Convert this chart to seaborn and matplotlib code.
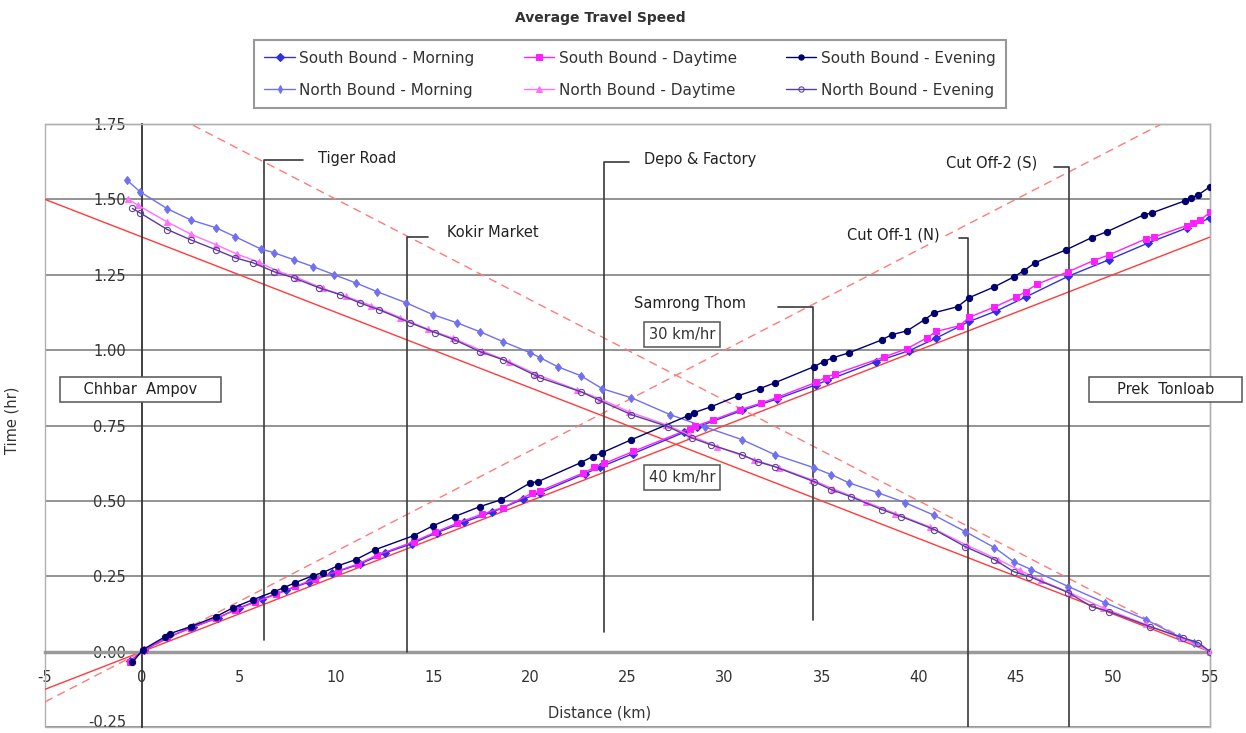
import matplotlib
matplotlib.use("Agg")
from matplotlib import pyplot as plt
from matplotlib.patches import Rectangle
from matplotlib.transforms import ScaledTranslation
import numpy as np
import pandas as pd
import seaborn as sns

# distance (km) / travel time (hr)
d_sbm = [-0.6, 0.1, 1.3, 2.6, 3.9, 5.0, 6.2, 7.4, 8.6, 9.8, 11.2, 12.5, 13.9, 15.2, 16.6, 18.0, 19.6, 20.5,
         22.8, 23.6, 25.3, 27.9, 28.6, 30.9, 32.7, 34.7, 35.3, 37.8, 39.5, 40.9, 42.6, 44.0, 45.5, 47.7,
         49.8, 51.8, 53.8, 55.0]
t_sbm = [-0.030, 0.004, 0.047, 0.081, 0.112, 0.145, 0.175, 0.203, 0.231, 0.260, 0.290, 0.327, 0.358, 0.395,
         0.430, 0.462, 0.505, 0.527, 0.590, 0.612, 0.657, 0.727, 0.745, 0.800, 0.838, 0.885, 0.900, 0.962,
         0.998, 1.040, 1.095, 1.130, 1.176, 1.245, 1.300, 1.355, 1.405, 1.438]

d_sbd = [-0.6, 0.1, 1.3, 2.5, 3.8, 4.8, 5.8, 6.9, 7.9, 8.9, 10.1, 11.1, 12.1, 14.0, 15.1, 16.2, 17.5, 18.6,
         20.1, 20.5, 22.7, 23.3, 23.8, 25.3, 28.2, 28.5, 29.4, 30.8, 31.9, 32.7, 34.7, 35.2, 35.7, 38.2,
         39.4, 40.4, 40.9, 42.1, 42.6, 43.9, 45.0, 45.5, 46.1, 47.7, 49.0, 49.8, 51.7, 52.1, 53.8, 54.1,
         54.5, 55.0]
t_sbd = [-0.034, 0.006, 0.047, 0.078, 0.110, 0.138, 0.164, 0.190, 0.217, 0.240, 0.268, 0.290, 0.320, 0.365,
         0.396, 0.425, 0.456, 0.478, 0.526, 0.533, 0.592, 0.611, 0.624, 0.664, 0.739, 0.748, 0.768, 0.802,
         0.825, 0.843, 0.893, 0.909, 0.921, 0.977, 1.005, 1.040, 1.062, 1.081, 1.109, 1.143, 1.175, 1.194,
         1.219, 1.260, 1.297, 1.316, 1.369, 1.375, 1.413, 1.422, 1.432, 1.457]

d_sbe = [-0.5, 0.05, 1.2, 1.45, 2.5, 3.8, 4.7, 5.7, 6.8, 7.3, 7.9, 8.8, 9.3, 10.1, 11.0, 12.0, 14.0, 15.0,
         16.1, 17.4, 18.5, 20.0, 20.4, 22.6, 23.2, 23.7, 25.2, 28.1, 28.4, 29.3, 30.7, 31.8, 32.6, 34.6,
         35.1, 35.6, 36.4, 38.1, 38.6, 39.4, 40.3, 40.8, 42.0, 42.6, 43.9, 44.9, 45.4, 46.0, 47.6, 48.9,
         49.7, 51.6, 52.0, 53.7, 54.0, 54.4, 55.0]
t_sbe = [-0.036, 0.007, 0.050, 0.060, 0.083, 0.116, 0.146, 0.172, 0.199, 0.212, 0.229, 0.252, 0.262, 0.285,
         0.305, 0.338, 0.385, 0.418, 0.448, 0.481, 0.504, 0.560, 0.564, 0.627, 0.647, 0.660, 0.703, 0.782,
         0.792, 0.812, 0.849, 0.872, 0.892, 0.945, 0.962, 0.975, 0.991, 1.034, 1.051, 1.064, 1.101, 1.124,
         1.144, 1.174, 1.210, 1.243, 1.263, 1.290, 1.333, 1.373, 1.393, 1.449, 1.455, 1.495, 1.505, 1.515,
         1.542]

d_nbm = [-0.8, -0.1, 1.3, 2.5, 3.8, 4.8, 6.1, 6.8, 7.8, 8.8, 9.9, 11.0, 12.1, 13.6, 15.0, 16.2, 17.4, 18.6,
         20.0, 20.5, 21.4, 22.6, 23.7, 25.2, 27.2, 29.0, 30.9, 32.6, 34.6, 35.5, 36.4, 37.9, 39.3, 40.8,
         42.4, 43.9, 44.9, 45.8, 47.7, 49.6, 51.7, 53.4, 54.2, 55.0]
t_nbm = [1.565, 1.525, 1.469, 1.432, 1.406, 1.376, 1.336, 1.323, 1.300, 1.277, 1.250, 1.223, 1.194, 1.157,
         1.117, 1.091, 1.061, 1.028, 0.991, 0.975, 0.945, 0.915, 0.872, 0.842, 0.786, 0.745, 0.703, 0.653,
         0.610, 0.587, 0.560, 0.527, 0.494, 0.452, 0.398, 0.345, 0.298, 0.272, 0.216, 0.162, 0.106, 0.050,
         0.030, 0.0]

d_nbd = [-0.7, -0.2, 1.3, 2.5, 3.8, 4.9, 6.0, 7.0, 8.0, 9.3, 10.5, 11.8, 13.3, 14.7, 16.0, 17.5, 18.9, 20.3,
         22.4, 23.6, 25.1, 27.0, 28.2, 29.6, 31.5, 32.8, 34.5, 35.6, 37.3, 38.8, 40.6, 42.5, 44.1, 45.2,
         46.3, 47.8, 49.5, 51.7, 53.5, 55.0]
t_nbd = [1.500, 1.480, 1.425, 1.385, 1.350, 1.318, 1.292, 1.262, 1.240, 1.205, 1.178, 1.148, 1.108, 1.070,
         1.040, 0.998, 0.962, 0.920, 0.868, 0.838, 0.795, 0.752, 0.718, 0.680, 0.637, 0.610, 0.570, 0.540,
         0.496, 0.458, 0.413, 0.352, 0.305, 0.270, 0.236, 0.195, 0.145, 0.090, 0.045, 0.0]

d_nbe = [-0.5, -0.1, 1.3, 2.5, 3.8, 4.8, 5.7, 6.8, 7.8, 9.1, 10.2, 11.2, 12.2, 13.8, 15.1, 16.1, 17.4, 18.6,
         20.2, 20.5, 22.6, 23.5, 25.2, 27.1, 28.3, 29.3, 30.9, 31.7, 32.6, 34.6, 35.5, 36.5, 38.1, 39.1,
         40.8, 42.4, 43.9, 44.9, 45.7, 47.7, 48.9, 49.8, 51.9, 53.6, 54.4, 55.0]
t_nbe = [1.470, 1.455, 1.400, 1.366, 1.333, 1.306, 1.290, 1.260, 1.240, 1.207, 1.184, 1.157, 1.134, 1.091,
         1.058, 1.034, 0.995, 0.968, 0.918, 0.908, 0.862, 0.835, 0.786, 0.746, 0.709, 0.686, 0.653, 0.630,
         0.613, 0.564, 0.537, 0.514, 0.471, 0.448, 0.405, 0.348, 0.305, 0.265, 0.249, 0.196, 0.149, 0.133,
         0.083, 0.046, 0.030, 0.0]

route_len = 55.0
ref_speeds = [40, 30]  # km/hr reference lines
ref_labels = ["40 km/hr", "30 km/hr"]

landmarks = ["Tiger Road", "Kokir Market", "Depo & Factory", "Samrong Thom", "Cut Off-1 (N)", "Cut Off-2 (S)"]
lm_x = [6.3, 13.62, 23.79, 34.57, 42.52, 47.73]

x_ticks = list(range(-5, 60, 5))
y_ticks = [-0.25, 0.0, 0.25, 0.5, 0.75, 1.0, 1.25, 1.5, 1.75]

sns.set_style("white")
plt.rcParams["font.family"] = ["DejaVu Sans"]
plt.rcParams["axes.unicode_minus"] = False
txt = "#333333"

fig = plt.figure(figsize=(12.46, 7.33), dpi=100)
ax = fig.add_axes([45 / 1246, 6 / 733, 1165 / 1246, 603 / 733])

series = [
    ("South Bound - Morning", d_sbm, t_sbm, "#3030e0", "D", None),
    ("North Bound - Morning", d_nbm, t_nbm, "#7070f0", "d", None),
    ("South Bound - Daytime", d_sbd, t_sbd, "#ff20ff", "s", None),
    ("North Bound - Daytime", d_nbd, t_nbd, "#ff70ff", "^", None),
    ("South Bound - Evening", d_sbe, t_sbe, "#000070", "o", None),
    ("North Bound - Evening", d_nbe, t_nbe, "#5a3c9c", "o", "none"),
]

# reference speed lines
xr = np.array([-5, route_len])
for v, ls in zip(ref_speeds, ["-", (0, (6, 4))]):
    c = "#ff3b3b" if ls == "-" else "#ff7a7a"
    ax.plot(xr, xr / v, color=c, lw=1.0, ls=ls, zorder=2)
    ax.plot(xr, (route_len - xr) / v, color=c, lw=1.0, ls=ls, zorder=2)

for name, d, t, c, m, mfc in series:
    kw = dict(markerfacecolor=mfc) if mfc else {}
    sns.lineplot(x=d, y=t, ax=ax, sort=False, color=c, marker=m, markersize=4.5,
                 markeredgecolor=c, linewidth=1.0, label=name, zorder=4, **kw)

# landmark markers: vertical line, leader and label
lm_top = [1.631, 1.376, 1.625, 1.144, 1.373, 1.608]
lm_bot = [0.04, 0.0, 0.066, 0.106, -0.25, -0.25]
lm_lead = [8.31, 14.71, 25.08, 32.75, 42.05, 46.96]
lm_tx = [9.08, 15.69, 25.85, 31.11, 41.07, 46.08]
lm_ty = [1.636, 1.389, 1.631, 1.154, 1.383, 1.621]
for name, x, top, bot, lead, tx, ty in zip(landmarks, lm_x, lm_top, lm_bot, lm_lead, lm_tx, lm_ty):
    ax.plot([x, x, lead], [bot, top, top], color="#3a3a3a", lw=1.2, zorder=3)
    ha = "left" if lead > x else "right"
    ax.text(tx, ty, name, ha=ha, va="center", fontsize=10.5, color="#222222", zorder=5,
            bbox=dict(boxstyle="square,pad=0.1", fc="white", ec="none"))

box = dict(boxstyle="square,pad=0.35", fc="white", ec="#555555", lw=1.1)
ax.text(-0.1, 0.869, "    Chhbar  Ampov    ", ha="center", va="center", fontsize=10.5, color="#222222",
        bbox=box, zorder=6)
ax.text(52.7, 0.869, "     Prek  Tonloab     ", ha="center", va="center", fontsize=10.5, color="#222222",
        bbox=box, zorder=6, clip_on=False)
ax.text(27.8, 1.051, ref_labels[1], ha="center", va="center", fontsize=10.5, color="#333333",
        bbox=box, zorder=6)
ax.text(27.8, 0.577, ref_labels[0], ha="center", va="center", fontsize=10.5, color="#333333",
        bbox=box, zorder=6)

ax.set_xlim(-5, 55)
ax.set_ylim(-0.25, 1.75)
ax.set_xticks(x_ticks)
ax.set_yticks(y_ticks)
ax.set_yticklabels([f"{v:.2f}" for v in y_ticks])
ax.yaxis.grid(True, color="#8a8a8a", lw=1.3, zorder=0)
ax.xaxis.grid(False)
ax.set_axisbelow(True)

ax.spines["left"].set_position(("data", 0))
ax.spines["bottom"].set_position(("data", 0))
ax.spines["left"].set_color("#333333")
ax.spines["left"].set_linewidth(1.3)
ax.spines["bottom"].set_color("#9a9a9a")
ax.spines["bottom"].set_linewidth(2.5)
for s in ["top", "right"]:
    ax.spines[s].set_color("#b0b0b0")
    ax.spines[s].set_linewidth(1.0)
ax.add_patch(Rectangle((0, 0), 1, 1, transform=ax.transAxes, fill=False, ec="#b0b0b0", lw=1.0,
                       clip_on=False, zorder=1))
ax.tick_params(axis="both", direction="inout", length=7, width=1.2, colors="#333333",
               labelsize=10.5, labelcolor=txt)
ax.tick_params(axis="x", pad=10)
ax.tick_params(axis="y", pad=8)

# lowest y label sits on the bottom edge; lift it a little so it stays readable
low = ax.get_yticklabels()[0]
low.set_transform(low.get_transform() + ScaledTranslation(0, 4 / 72, fig.dpi_scale_trans))

ax.set_xlabel("Distance (km)", fontsize=10.5, color=txt)
ax.set_ylabel("Time (hr)", fontsize=10.5, color=txt)
ax.xaxis.set_label_coords(0.476, 0.035)
ax.yaxis.set_label_coords(-0.0215, 0.509)

handles, labels = ax.get_legend_handles_labels()
ax.get_legend().remove()
leg = fig.legend(handles, labels, ncol=3, loc="upper center", bbox_to_anchor=(630 / 1246, 1 - 40 / 733),
                 borderaxespad=0, frameon=True, fancybox=False, edgecolor="#808080", fontsize=11,
                 handlelength=2.0, columnspacing=3.2, borderpad=0.7, labelspacing=1.1, handletextpad=0.3,
                 markerscale=0.85)
leg.get_frame().set_linewidth(1.5)
for t in leg.get_texts():
    t.set_color(txt)

fig.text(600 / 1246, 1 - 18 / 733, "Average Travel Speed", ha="center", va="center", fontsize=10,
         fontweight="bold", color=txt)

fig.savefig("out.png", dpi=100)
